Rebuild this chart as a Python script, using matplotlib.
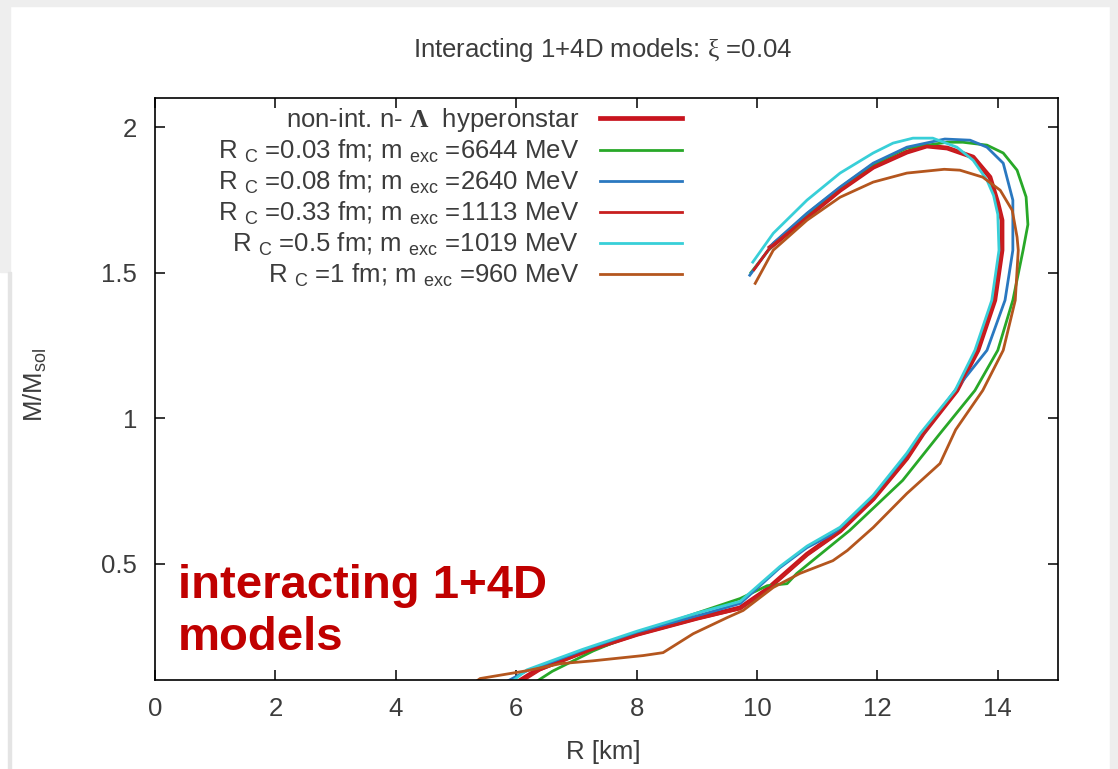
import matplotlib
matplotlib.use("Agg")
import matplotlib.pyplot as plt
from matplotlib.patches import Rectangle

plt.rcParams['font.family'] = ['Liberation Sans', 'DejaVu Sans']
plt.rcParams['mathtext.fontset'] = 'custom'
plt.rcParams['mathtext.rm'] = 'Liberation Serif'
plt.rcParams['mathtext.bf'] = 'Liberation Serif:bold'

# mass-radius curves, R in km, M in solar masses (bottom -> top-left end)
R_nonint = [6.00, 6.35, 7.15, 8.01, 9.00, 9.72, 10.17, 10.83, 11.38, 11.93, 12.49, 12.76,
            13.32, 13.67, 13.95, 14.07, 14.07, 14.00, 13.87, 13.59, 13.16, 12.82, 12.49,
            11.93, 11.38, 10.83, 10.22]
M_nonint = [0.09, 0.135, 0.20, 0.257, 0.312, 0.348, 0.412, 0.532, 0.612, 0.722, 0.862, 0.947,
            1.095, 1.233, 1.405, 1.577, 1.680, 1.739, 1.828, 1.897, 1.928, 1.935, 1.914,
            1.862, 1.783, 1.690, 1.587]

R_003 = [6.30, 6.60, 7.28, 8.01, 8.39, 9.00, 9.72, 10.17, 10.50, 10.66, 11.54, 12.42, 13.04,
         13.62, 14.00, 14.25, 14.42, 14.50, 14.47, 14.32, 14.09, 13.82, 13.42, 13.16, 12.49,
         11.93, 11.38, 10.83, 10.27, 9.90]
M_003 = [0.09, 0.13, 0.20, 0.262, 0.287, 0.33, 0.380, 0.424, 0.431, 0.466, 0.614, 0.786, 0.947,
         1.095, 1.233, 1.405, 1.577, 1.665, 1.760, 1.852, 1.911, 1.938, 1.948, 1.948, 1.928,
         1.873, 1.792, 1.702, 1.598, 1.500]

R_008 = [5.80, 6.18, 7.10, 8.01, 9.00, 9.72, 9.83, 10.38, 10.83, 11.38, 11.93, 12.49, 12.76,
         13.29, 13.82, 14.12, 14.25, 14.25, 14.09, 13.82, 13.54, 13.12, 12.49, 11.93, 11.38,
         10.83, 10.27, 9.88]
M_008 = [0.09, 0.132, 0.20, 0.263, 0.32, 0.363, 0.383, 0.486, 0.555, 0.615, 0.727, 0.875, 0.947,
         1.095, 1.233, 1.405, 1.577, 1.749, 1.876, 1.931, 1.955, 1.959, 1.931, 1.876, 1.794,
         1.704, 1.601, 1.491]

R_033 = [6.05, 6.40, 7.20, 8.01, 9.00, 9.72, 10.17, 10.83, 11.38, 11.93, 12.49, 12.76, 13.32,
         13.67, 13.95, 14.07, 14.07, 14.00, 13.87, 13.59, 13.16, 12.82, 12.49, 11.93, 11.38,
         10.83, 10.22, 9.95]
M_033 = [0.09, 0.135, 0.20, 0.255, 0.31, 0.345, 0.41, 0.53, 0.61, 0.72, 0.86, 0.947, 1.095,
         1.233, 1.405, 1.577, 1.680, 1.739, 1.828, 1.897, 1.928, 1.935, 1.914, 1.862, 1.783,
         1.690, 1.587, 1.510]

R_05 = [5.90, 6.18, 7.10, 8.01, 9.00, 9.72, 9.83, 10.38, 10.83, 11.38, 11.93, 12.49, 12.71,
        13.29, 13.62, 13.90, 14.02, 14.00, 13.93, 13.82, 13.59, 13.32, 12.92, 12.59, 12.26,
        11.93, 11.38, 10.83, 10.27, 9.93]
M_05 = [0.09, 0.135, 0.205, 0.268, 0.33, 0.37, 0.39, 0.49, 0.56, 0.625, 0.735, 0.88, 0.947,
        1.095, 1.233, 1.405, 1.577, 1.700, 1.765, 1.818, 1.886, 1.931, 1.962, 1.962, 1.945,
        1.911, 1.842, 1.749, 1.635, 1.536]

R_1 = [5.30, 5.40, 6.18, 6.73, 7.28, 8.11, 8.44, 8.94, 9.50, 9.77, 10.27, 10.71, 11.26, 11.50,
       11.93, 12.49, 13.04, 13.30, 13.75, 14.09, 14.29, 14.34, 14.32, 14.24, 14.04, 13.75,
       13.37, 13.11, 12.49, 11.93, 11.38, 10.83, 10.27, 9.97]
M_1 = [0.09, 0.105, 0.132, 0.156, 0.166, 0.184, 0.194, 0.259, 0.314, 0.339, 0.418, 0.466, 0.51,
       0.545, 0.624, 0.741, 0.844, 0.96, 1.095, 1.233, 1.405, 1.577, 1.622, 1.714, 1.783, 1.828,
       1.852, 1.855, 1.842, 1.811, 1.759, 1.680, 1.577, 1.463]

labels = [r"non-int. n- $\mathbf{\Lambda}$  hyperonstar",
          r"R $_\mathregular{C}$ =0.03 fm; m $_\mathregular{exc}$ =6644 MeV",
          r"R $_\mathregular{C}$ =0.08 fm; m $_\mathregular{exc}$ =2640 MeV",
          r"R $_\mathregular{C}$ =0.33 fm; m $_\mathregular{exc}$ =1113 MeV",
          r"R $_\mathregular{C}$ =0.5 fm; m $_\mathregular{exc}$ =1019 MeV",
          r"R $_\mathregular{C}$ =1 fm; m $_\mathregular{exc}$ =960 MeV"]
curves = [(R_nonint, M_nonint), (R_003, M_003), (R_008, M_008),
          (R_033, M_033), (R_05, M_05), (R_1, M_1)]
colors = ["#c8141e", "#28a828", "#2a78c0", "#c81e1e", "#38cfd8", "#b4561e"]
widths = [3.4, 2.0, 2.0, 2.0, 2.0, 2.0]

txtcol = "#3c3c3c"
fs = 18.5

fig = plt.figure(figsize=(11.18, 7.69), dpi=100)
fig.patch.set_facecolor("white")
# grey slide border around the card
fig.patches.append(Rectangle((0, 1 - 6/769), 1, 6/769, transform=fig.transFigure,
                             color="#eeeeee", zorder=0))
fig.patches.append(Rectangle((0, 1 - 272/769), 10/1118, 272/769, transform=fig.transFigure,
                             color="#eeeeee", zorder=0))
fig.patches.append(Rectangle((8/1118, 0), 3/1118, 1 - 272/769, transform=fig.transFigure,
                             color="#e4e4e4", zorder=0))
fig.patches.append(Rectangle((1 - 8/1118, 0), 8/1118, 1, transform=fig.transFigure,
                             color="#eeeeee", zorder=0))

ax = fig.add_axes([155/1118, 1 - 680/769, 903/1118, 582/769])
for (r, m), c, w, lab in zip(curves, colors, widths, labels):
    ax.plot(r, m, color=c, lw=w, label=lab, solid_joinstyle="round")

ax.set_xlim(0, 15)
ax.set_ylim(0.1, 2.1)
ax.set_xticks(range(0, 15, 2))
ax.set_yticks([0.5, 1, 1.5, 2])
ax.set_yticklabels(["0.5", "1", "1.5", "2"])
ax.tick_params(direction="in", top=True, right=True, length=7, width=1.1,
               labelsize=fs, labelcolor=txtcol, colors="black")
ax.tick_params(axis="y", pad=13)
ax.tick_params(axis="x", pad=12)
for s in ax.spines.values():
    s.set_linewidth(1.2)

leg = ax.legend(loc="upper right", bbox_to_anchor=((682 - 155) / 903, (680 - 106) / 582),
                frameon=False, markerfirst=False, fontsize=fs, handlelength=3.2,
                handletextpad=0.8, labelspacing=0.14, borderpad=0, borderaxespad=0)
for t in leg.get_texts():
    t.set_color(txtcol)

fig.text(603/1118, 1 - 50/769, r"Interacting 1+4D models: $\mathrm{\xi}$ =0.04",
         ha="center", va="center", fontsize=fs, color=txtcol)
fig.text(603/1118, 1 - 752/769, "R [km]", ha="center", va="center", fontsize=fs, color=txtcol)
fig.text(35/1118, 1 - 385/769, r"M/M$_\mathregular{sol}$", ha="center", va="center",
         rotation=90, fontsize=fs, color=txtcol)

fig.text(178/1118, 1 - 564/769, "interacting 1+4D\nmodels", ha="left", va="top",
         fontsize=34, fontweight="bold", color="#c00000", linespacing=1.25)

fig.savefig("out.png", dpi=100)
